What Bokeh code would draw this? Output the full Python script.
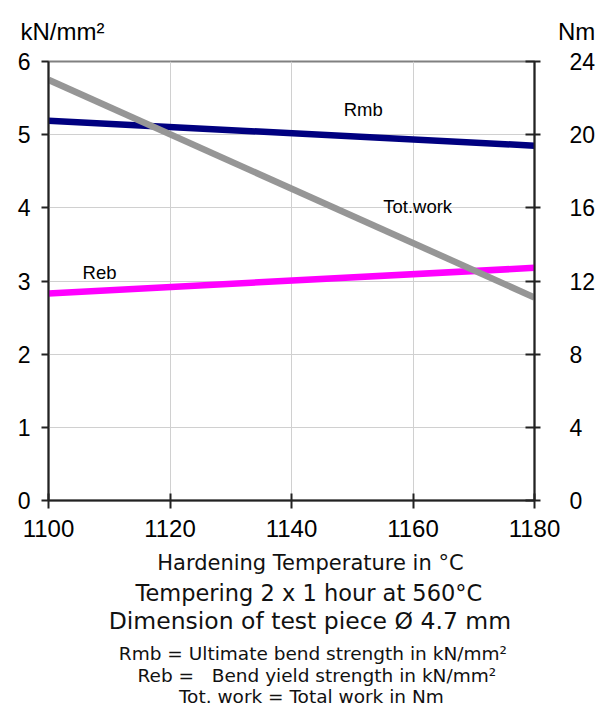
from bokeh.plotting import figure
from bokeh.models import Range1d, LinearAxis, FixedTicker, ColumnDataSource, Title
from bokeh.layouts import column
from bokeh.core.properties import value
from bokeh.embed import file_html
from bokeh.resources import INLINE

temps = [1100, 1180]
rmb = [5.19, 4.85]
reb = [2.83, 3.18]
totwork = [23.0, 11.1]
x_ticks = [1100, 1120, 1140, 1160, 1180]
left_ticks = [0, 1, 2, 3, 4, 5, 6]
right_ticks = [0, 4, 8, 12, 16, 20, 24]

series_names = ["Rmb", "Tot.work", "Reb"]
left_unit = "kN/mm²"
right_unit = "Nm"
caption_lines = ["Hardening Temperature in °C",
                 "Tempering 2 x 1 hour at 560°C",
                 "Dimension of test piece Ø 4.7 mm"]
legend_lines = ["Rmb = Ultimate bend strength in kN/mm²",
                "Reb =\u00a0\u00a0 Bend yield strength in kN/mm²",
                "Tot. work = Total work in Nm"]

AX = "Liberation Sans"
BT = "DejaVu Sans"
W = 598
MH = 549

# ---- main chart
p = figure(width=W, height=MH, output_backend="svg", toolbar_location=None,
           x_range=Range1d(1100, 1180), y_range=Range1d(0, 6),
           min_border_left=48, min_border_right=61, min_border_top=61, min_border_bottom=MH - 500)
p.extra_y_ranges = {"nm": Range1d(0, 24)}
p.outline_line_color = "#808080"
p.outline_line_width = 2
p.border_fill_color = "white"

unit_text = left_unit + "\u00a0" * 68 + right_unit
p.add_layout(Title(text=unit_text, align="left", offset=-28, standoff=30, vertical_align="top",
                   text_font=AX, text_font_size="24px", text_font_style="normal",
                   text_color="black"), "above")

p.xgrid.ticker = FixedTicker(ticks=x_ticks)
p.ygrid.ticker = FixedTicker(ticks=left_ticks)
p.grid.grid_line_color = "#d0d0d0"
p.grid.grid_line_width = 1

left_ax = p.yaxis[0]
bottom_ax = p.xaxis[0]
bottom_ax.ticker = FixedTicker(ticks=x_ticks)
left_ax.ticker = FixedTicker(ticks=left_ticks)
rax = LinearAxis(y_range_name="nm", ticker=FixedTicker(ticks=right_ticks))
p.add_layout(rax, "right")
for ax in (bottom_ax, left_ax, rax):
    ax.axis_line_color = "#222222"
    ax.axis_line_width = 2
    ax.major_tick_line_color = "#222222"
    ax.major_tick_line_width = 2
    ax.minor_tick_line_color = None
    ax.major_label_text_font = AX
    ax.major_label_text_font_size = "23px"
    ax.major_label_text_color = "black"
bottom_ax.major_label_text_font_size = "24px"
bottom_ax.major_tick_in = 7
bottom_ax.major_tick_out = 8
bottom_ax.major_label_standoff = 11
left_ax.major_tick_in = 0
left_ax.major_tick_out = 7
left_ax.major_label_standoff = 11
rax.major_tick_in = 9
rax.major_tick_out = 6
rax.major_label_standoff = 29

p.line(temps, rmb, line_color="#000080", line_width=6.5)
p.line(temps, reb, line_color="#ff00ff", line_width=6.5)
p.line(temps, totwork, line_color="#969696", line_width=6.5, y_range_name="nm")

lab_src = ColumnDataSource(dict(x=[1148.6, 1155.1, 1105.6], y=[5.34, 4.02, 3.12], t=series_names))
p.text(x="x", y="y", text="t", source=lab_src, text_font=value(AX), text_font_size="18.5px",
       text_baseline="middle", text_align="left", text_color="black")

# ---- bottom captions (frame is aligned with the chart frame)
BH = 706 - MH
bot = figure(width=W, height=BH, output_backend="svg", toolbar_location=None,
             x_range=Range1d(48, 537), y_range=Range1d(BH, 0),
             min_border_left=48, min_border_right=61, min_border_top=0, min_border_bottom=0,
             outline_line_color=None)
bot.axis.visible = False
bot.grid.visible = False
bot.border_fill_color = "white"
bot.text(x=[311.5, 310, 311], y=[562.5 - MH, 592.5 - MH, 620 - MH], text=caption_lines,
         text_font=value(BT), text_font_size=["21px", "22.5px", "23.5px"],
         text_baseline="middle", text_align="center", text_color="#111111")
bot.text(x=[314, 318, 312.5], y=[652.5 - MH, 674.5 - MH, 695.5 - MH], text=legend_lines,
         text_font=value(BT), text_font_size="18.5px", text_baseline="middle",
         text_align="center", text_color="#111111")

layout = column(p, bot, spacing=0)
open("out.html", "w").write(file_html(layout, INLINE))
